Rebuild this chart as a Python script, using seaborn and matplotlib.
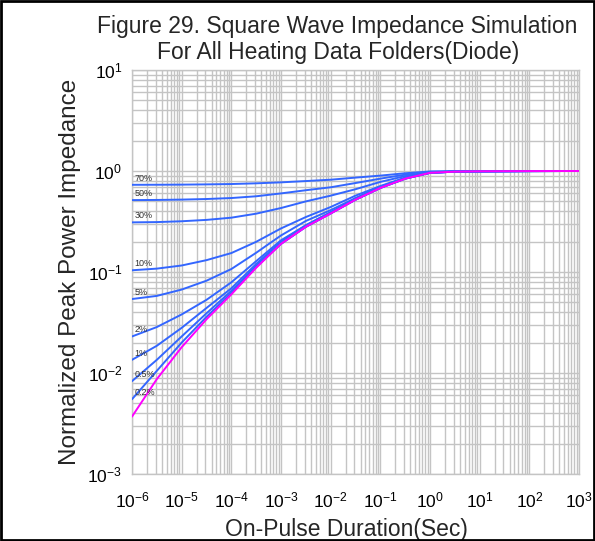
import numpy as np
import pandas as pd
import seaborn as sns
from matplotlib import pyplot as plt
from matplotlib import ticker
from matplotlib.patches import Rectangle

# pulse durations (sec), half decades from 1e-6 to 1e1, then 1e2, 1e3
t_sec = [1e-6, 3.16e-6, 1e-5, 3.16e-5, 1e-4, 3.16e-4, 1e-3, 3.16e-3, 1e-2,
         3.16e-2, 1e-1, 3.16e-1, 1e0, 3.16e0, 1e1, 1e2, 1e3]

# normalized impedance
z_single = [0.0037, 0.0087, 0.018, 0.034, 0.060, 0.11, 0.19, 0.28, 0.38,
            0.52, 0.68, 0.84, 0.96, 0.985, 0.993, 0.998, 1.0]
z_02 = [0.0055, 0.0105, 0.020, 0.036, 0.062, 0.112, 0.19, 0.28, 0.38,
        0.52, 0.68, 0.84, 0.96, 0.985, 0.993, 0.998, 1.0]
z_05 = [0.0083, 0.0135, 0.023, 0.039, 0.065, 0.115, 0.19, 0.28, 0.38,
        0.52, 0.68, 0.84, 0.96, 0.985, 0.993, 0.998, 1.0]
z_1 = [0.0135, 0.0186, 0.028, 0.044, 0.069, 0.12, 0.20, 0.29, 0.39,
       0.52, 0.68, 0.84, 0.96, 0.985, 0.993, 0.998, 1.0]
z_2 = [0.0230, 0.0285, 0.038, 0.053, 0.079, 0.128, 0.206, 0.29, 0.39,
       0.53, 0.69, 0.85, 0.96, 0.985, 0.993, 0.998, 1.0]
z_5 = [0.054, 0.058, 0.067, 0.082, 0.107, 0.155, 0.23, 0.32, 0.41,
       0.54, 0.70, 0.85, 0.96, 0.985, 0.993, 0.998, 1.0]
z_10 = [0.104, 0.108, 0.116, 0.131, 0.154, 0.199, 0.27, 0.35, 0.44,
        0.57, 0.71, 0.86, 0.965, 0.987, 0.994, 0.998, 1.0]
z_30 = [0.31, 0.312, 0.318, 0.328, 0.345, 0.378, 0.43, 0.50, 0.57,
        0.66, 0.78, 0.89, 0.97, 0.988, 0.995, 0.998, 1.0]
z_50 = [0.515, 0.517, 0.521, 0.528, 0.54, 0.562, 0.60, 0.645, 0.69,
        0.76, 0.84, 0.92, 0.98, 0.99, 0.996, 0.999, 1.0]
z_70 = [0.73, 0.731, 0.733, 0.737, 0.743, 0.755, 0.772, 0.795, 0.82,
        0.86, 0.90, 0.95, 0.99, 0.995, 0.997, 0.999, 1.0]

duty_labels = ["70%", "50%", "30%", "10%", "5%", "2%", "1%", "0.5%", "0.2%", "Single"]
duty_series = [z_70, z_50, z_30, z_10, z_5, z_2, z_1, z_05, z_02, z_single]

rows = []
for lab, vals in zip(duty_labels, duty_series):
    for t, z in zip(t_sec, vals):
        rows.append({"t": t, "z": z, "duty": lab})
df = pd.DataFrame(rows)

sns.set_style("white")
plt.rcParams["font.family"] = ["Liberation Sans", "DejaVu Sans"]
plt.rcParams["axes.unicode_minus"] = False

fig = plt.figure(figsize=(5.95, 5.41), dpi=100)
ax = fig.add_axes([132 / 595, 1 - 474 / 541, (579 - 132) / 595, (474 - 70) / 541])

palette = {lab: "#3366FF" for lab in duty_labels}
palette["Single"] = "#FF00FF"
sns.lineplot(data=df, x="t", y="z", hue="duty", palette=palette, sort=False,
             linewidth=1.4, legend=False, ax=ax, zorder=3)

ax.set_xscale("log")
ax.set_yscale("log")
ax.set_xlim(1e-6, 1e3)
ax.set_ylim(1e-3, 1e1)

ax.xaxis.set_major_locator(ticker.LogLocator(base=10, numticks=20))
ax.xaxis.set_minor_locator(ticker.LogLocator(base=10, subs=np.arange(2, 10), numticks=200))
ax.yaxis.set_major_locator(ticker.LogLocator(base=10, numticks=20))
ax.yaxis.set_minor_locator(ticker.LogLocator(base=10, subs=np.arange(2, 10), numticks=200))
ax.xaxis.set_minor_formatter(ticker.NullFormatter())
ax.yaxis.set_minor_formatter(ticker.NullFormatter())

ax.grid(which="both", color="#C4C4C4", linewidth=1.0)
ax.set_axisbelow(True)
for s in ax.spines.values():
    s.set_color("#C4C4C4")
    s.set_linewidth(1.0)
ax.tick_params(which="both", length=0, labelsize=12.5, colors="black")
ax.tick_params(axis="x", pad=12)
ax.tick_params(axis="y", pad=7)

# duty cycle tags at the left end of each curve
for lab, vals in zip(duty_labels[:-1], duty_series[:-1]):
    ax.text(1.12e-6, vals[0] * 1.05, lab, fontsize=6.5, color="#333333",
            ha="left", va="bottom")

ax.set_xlabel("On-Pulse Duration(Sec)", fontsize=16.5)
ax.set_ylabel("Normalized Peak Power Impedance", fontsize=17.5)
ax.xaxis.set_label_coords((346 - 132) / 447, -(518 - 474) / 404)
ax.yaxis.set_label_coords(-(132 - 81) / 447, 0.5)

fig.text(97 / 595, 1 - 27 / 541, "Figure 29. Square Wave Impedance Simulation",
         fontsize=16.5, ha="left", va="center")
fig.text(157 / 595, 1 - 53 / 541, "For All Heating Data Folders(Diode)",
         fontsize=16.5, ha="left", va="center")

fig.patches.append(Rectangle((0.002, 0.002), 0.996, 0.996, transform=fig.transFigure,
                             fill=False, edgecolor="black", linewidth=2))

fig.savefig("out.png", dpi=100)
